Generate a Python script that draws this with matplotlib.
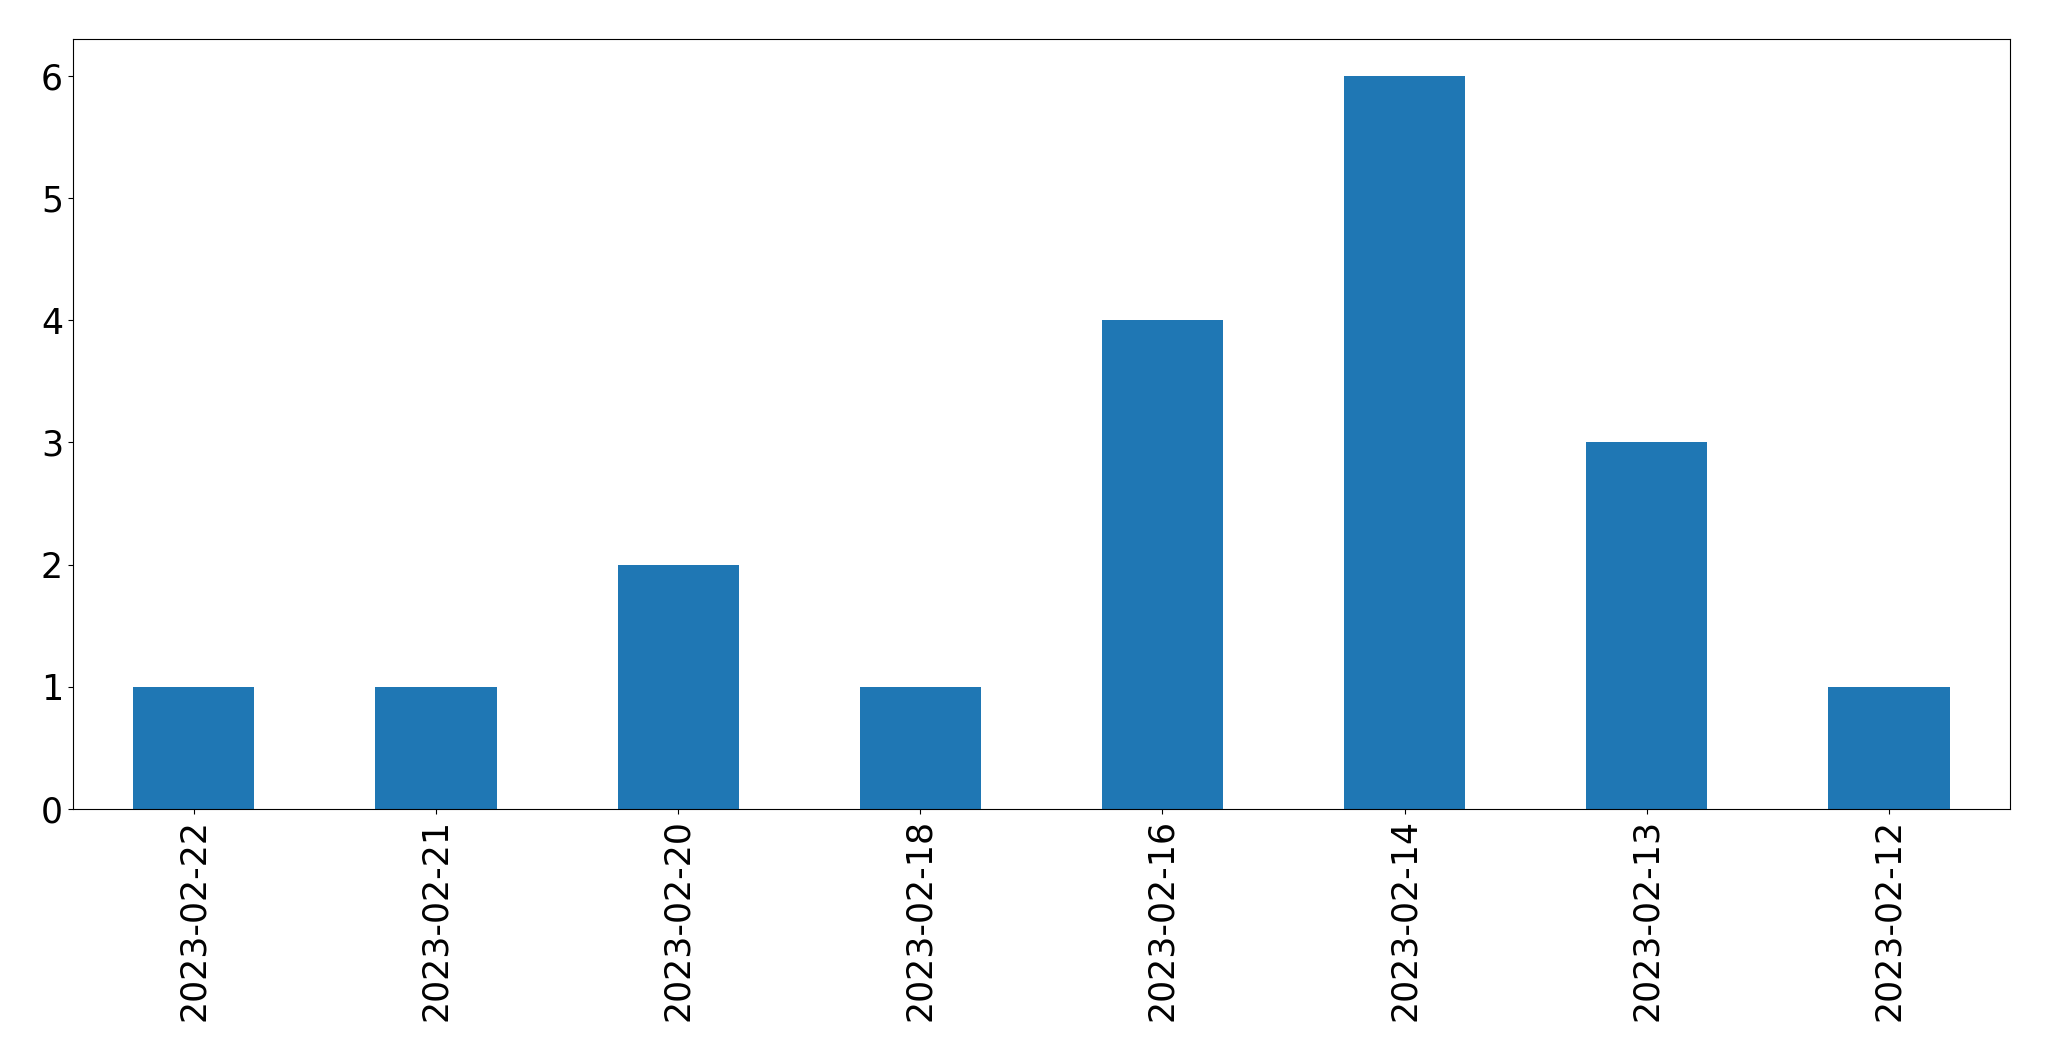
import matplotlib
matplotlib.use("Agg")
import matplotlib.pyplot as plt
import pandas as pd

dates = ["2023-02-22", "2023-02-21", "2023-02-20", "2023-02-18",
         "2023-02-16", "2023-02-14", "2023-02-13", "2023-02-12"]
counts = [1, 1, 2, 1, 4, 6, 3, 1]

s = pd.Series(counts, index=dates)

fig, ax = plt.subplots(figsize=(20.49, 10.61), dpi=100)
s.plot(kind="bar", ax=ax, color="#1f77b4")
ax.tick_params(axis="both", labelsize=25)
fig.subplots_adjust(left=0.0355, right=0.981, top=0.963, bottom=0.2375)
fig.savefig("out.png", dpi=100)
